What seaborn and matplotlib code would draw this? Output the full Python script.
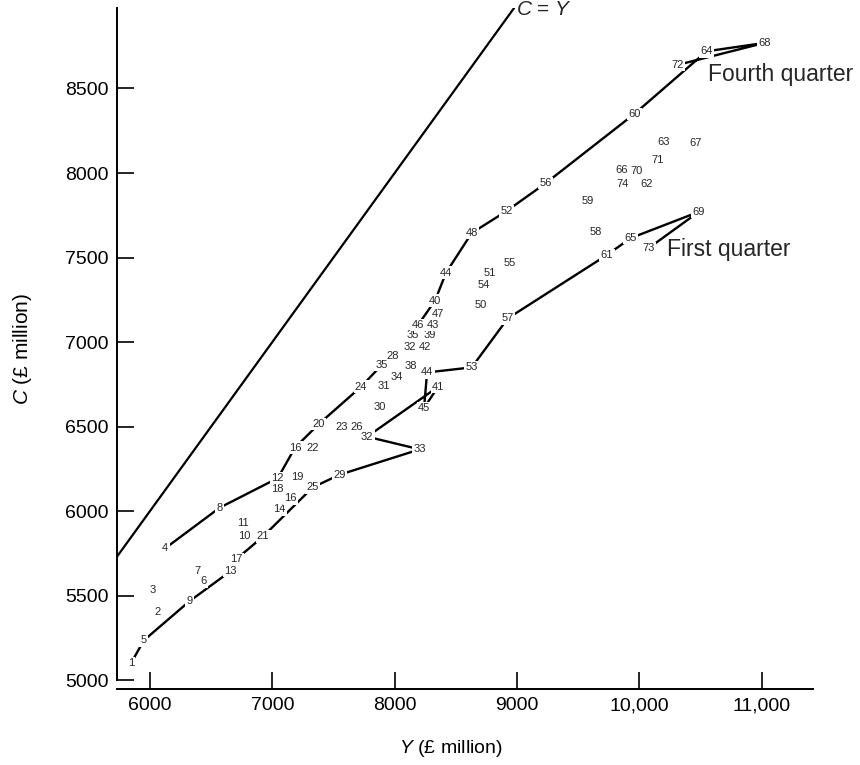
import matplotlib
matplotlib.use("Agg")
import matplotlib.pyplot as plt
import seaborn as sns
import pandas as pd

# ---- data: quarterly consumption C against income Y (£ million) ----
point_id = ["1", "2", "3", "4", "5", "6", "7", "8", "9", "10", "11", "12", "13", "14",
            "16b", "16a", "17", "18", "19", "20", "21", "22", "23", "24", "25", "26",
            "28", "29", "30", "31", "32a", "32b", "33", "34", "35a", "35b", "38", "39",
            "40", "41", "42", "43", "44a", "44b", "45", "46", "47", "48", "50", "51",
            "52", "53", "54", "55", "56", "57", "58", "59", "60", "61", "62", "63",
            "64", "65", "66", "67", "68", "69", "70", "71", "72", "73", "74"]
label_text = [p.rstrip("ab") for p in point_id]
income_Y = [5845, 6065, 6025, 6125, 5950, 6440, 6385, 6570, 6320, 6770, 6760, 7045, 6660, 7055,
            7150, 7185, 6705, 7040, 7200, 7380, 6925, 7330, 7570, 7725, 7330, 7690,
            7985, 7550, 7880, 7910, 8125, 7775, 8205, 8020, 7895, 8150, 8130, 8290,
            8330, 8355, 8245, 8310, 8420, 8265, 8240, 8190, 8355, 8630, 8705, 8780,
            8915, 8630, 8730, 8940, 9235, 8925, 9645, 9580, 9960, 9735, 10060, 10200,
            10550, 9930, 9855, 10460, 11025, 10485, 9980, 10150, 10315, 10075, 9865]
consumption_C = [5100, 5400, 5535, 5780, 5235, 5585, 5645, 6020, 5465, 5850, 5930, 6195, 5645, 6010,
                 6075, 6375, 5715, 6130, 6200, 6515, 5850, 6375, 6495, 6735, 6140, 6495,
                 6915, 6215, 6615, 6740, 6970, 6440, 6365, 6795, 6865, 7040, 6860, 7040,
                 7245, 6735, 6970, 7100, 7410, 6820, 6610, 7100, 7165, 7645, 7220, 7410,
                 7775, 6850, 7335, 7465, 7940, 7140, 7650, 7835, 8350, 7515, 7935, 8185,
                 8720, 7615, 8020, 8180, 8770, 7770, 8010, 8075, 8640, 7555, 7935]

first_quarter_path = ["1", "5", "9", "13", "17", "21", "25", "29", "33", "32b", "41", "45",
                      "44b", "53", "57", "61", "65", "69", "73"]
fourth_quarter_paths = [["4", "8", "12", "16a", "20", "24", "35a"],
                        ["46", "40", "44a", "48", "52", "56", "60", "64", "68", "72"]]

x_ticks = [6000, 7000, 8000, 9000, 10000, 11000]
x_tick_labels = ["6000", "7000", "8000", "9000", "10,000", "11,000"]
y_ticks = [5000, 5500, 6000, 6500, 7000, 7500, 8000, 8500]

# ---- styling ----
sns.set_theme(style="ticks")
plt.rcParams["font.family"] = ["Liberation Sans", "DejaVu Sans"]
plt.rcParams["mathtext.fontset"] = "custom"
plt.rcParams["mathtext.it"] = "Liberation Sans:italic"
plt.rcParams["mathtext.rm"] = "Liberation Sans"

df = pd.DataFrame({"id": point_id, "text": label_text, "Y": income_Y, "C": consumption_C}).set_index("id")

fig = plt.figure(figsize=(8.6, 7.65), dpi=100)
ax = fig.add_axes([0.136, 0.0993, 0.809, 0.8902])
ax.set_xlim(5730, 11417)
ax.set_ylim(4947, 8976)

# 45-degree line C = Y
ax.axline((6000, 6000), slope=1, color="black", lw=1.6, zorder=1)

# connected quarter paths
def draw_path(ids):
    seg = df.loc[ids].reset_index()
    sns.lineplot(data=seg, x="Y", y="C", sort=False, estimator=None,
                 color="black", lw=1.7, ax=ax, zorder=2)

draw_path(first_quarter_path)
for path in fourth_quarter_paths:
    draw_path(path)

# number labels
for _, row in df.iterrows():
    ax.text(row["Y"], row["C"], row["text"], fontsize=8, ha="center", va="center",
            zorder=3, bbox=dict(boxstyle="square,pad=0.12", fc="white", ec="none"))

ax.text(8990, 8965, "$C$ = $Y$", fontsize=15, ha="left", va="center", clip_on=False, zorder=4)
ax.text(10560, 8585, "Fourth quarter", fontsize=16.5, ha="left", va="center", zorder=4)
ax.text(10230, 7550, "First quarter", fontsize=16.5, ha="left", va="center", zorder=4)

# axes
sns.despine(ax=ax)
ax.spines["left"].set_bounds(5000, 8976)
for s in ("left", "bottom"):
    ax.spines[s].set_color("black")
    ax.spines[s].set_linewidth(1.4)
ax.set_xticks(x_ticks, x_tick_labels)
ax.set_yticks(y_ticks, [str(v) for v in y_ticks])
ax.tick_params(direction="in", length=12, width=1.2, colors="black", labelsize=14, pad=6)

ax.set_xlabel("$Y$ (£ million)", fontsize=14, color="black")
ax.set_ylabel("$C$ (£ million)", fontsize=15, color="black")
ax.xaxis.set_label_coords(0.48, -0.087)
ax.xaxis.label.set_va("center")
ax.yaxis.set_label_coords(-0.136, 0.5)
ax.yaxis.label.set_va("center")

fig.savefig("out.png", dpi=100, facecolor="white")
